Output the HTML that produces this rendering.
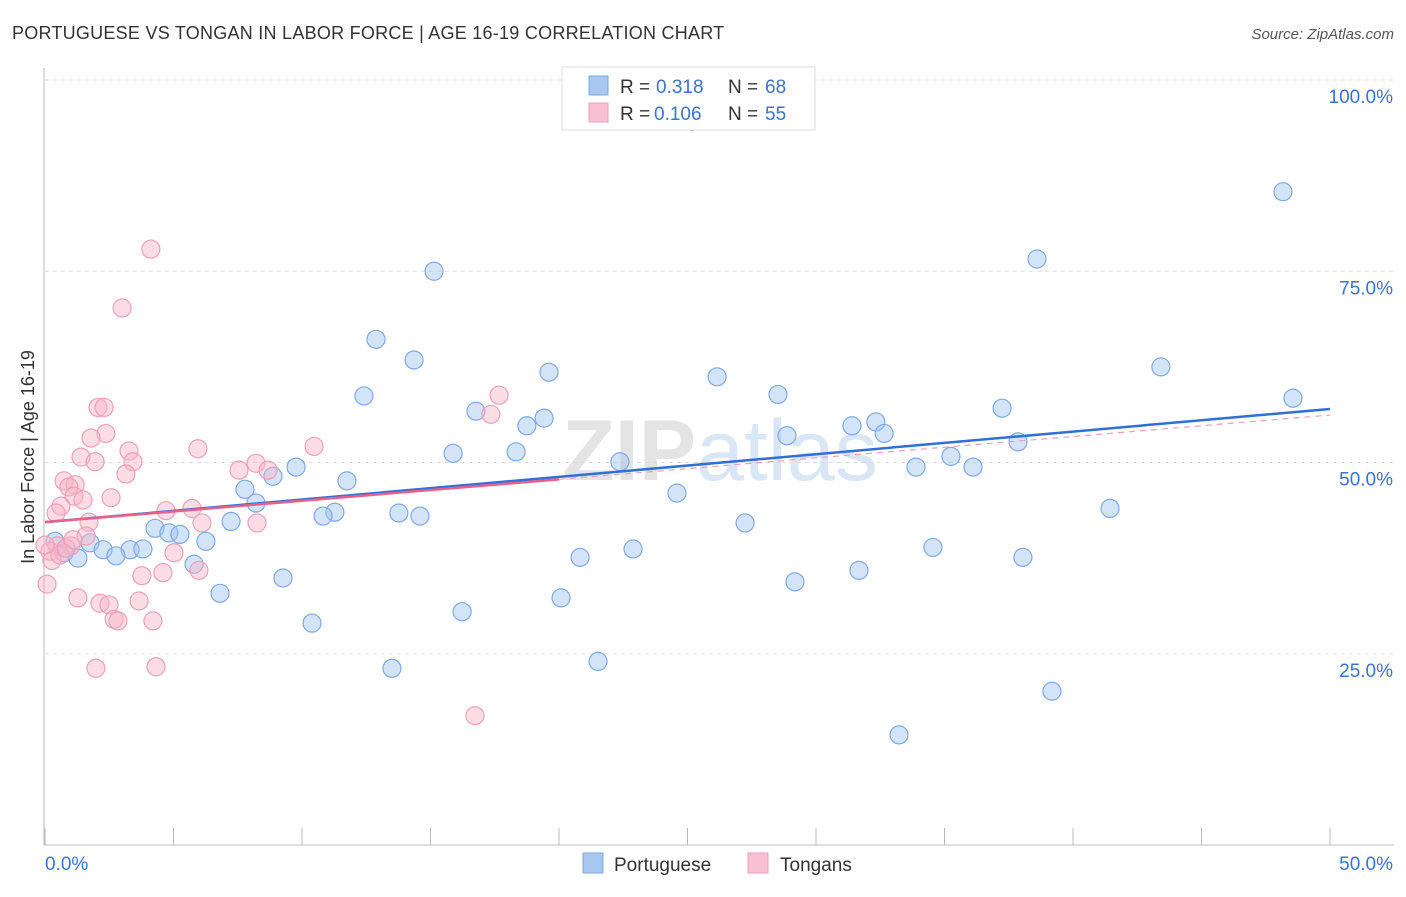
<!DOCTYPE html>
<html><head><meta charset="utf-8"><style>
body{margin:0;background:#fff;font-family:"Liberation Sans",sans-serif;}
svg text{font-family:"Liberation Sans",sans-serif;}
</style></head><body>
<svg id="chart" width="1406" height="892">
<text x="12" y="39" font-size="18" fill="#333" letter-spacing="0.25">PORTUGUESE VS TONGAN IN LABOR FORCE | AGE 16-19 CORRELATION CHART</text>
<text x="1394" y="39" font-size="15" fill="#555" font-style="italic" text-anchor="end">Source: ZipAtlas.com</text>
<text x="720" y="480" font-size="86" fill="#e4e4e4" text-anchor="middle" font-weight="bold">ZIP<tspan fill="#d8e6f5" font-weight="normal">atlas</tspan></text>
<g id="grid"></g>
<g id="axes"></g>
<g id="pts"></g>
<g id="trend"></g>
<text transform="translate(34,457) rotate(-90)" font-size="18" fill="#333" text-anchor="middle">In Labor Force | Age 16-19</text>
<g>
<rect x="562" y="67" width="253" height="63" fill="#fff" stroke="#ddd"/>
<rect x="589" y="76" width="19" height="19" fill="#a8c8f0" stroke="#7aa8e0"/>
<rect x="589" y="103" width="19" height="19" fill="#f8c0d0" stroke="#eea0b8"/>
<text x="620" y="93" font-size="19" fill="#333">R =</text>
<text x="656" y="93" font-size="19" fill="#3b73d0">0.318</text>
<text x="728" y="93" font-size="19" fill="#333">N =</text>
<text x="765" y="93" font-size="19" fill="#3b73d0">68</text>
<text x="620" y="120" font-size="19" fill="#333">R =</text>
<text x="654" y="120" font-size="19" fill="#3b73d0">0.106</text>
<text x="728" y="120" font-size="19" fill="#333">N =</text>
<text x="765" y="120" font-size="19" fill="#3b73d0">55</text>
</g>
<g>
<rect x="583" y="853" width="20" height="20" fill="#a8c8f0" stroke="#7aa8e0"/>
<text x="614" y="871" font-size="19" fill="#333">Portuguese</text>
<rect x="748" y="853" width="20" height="20" fill="#f8c0d0" stroke="#eea0b8"/>
<text x="780" y="871" font-size="19" fill="#333">Tongans</text>
</g>
</svg>
<script>
const xTicks=[0,5,10,15,20,25,30,35,40,45,50];
const yTicks=[25,50,75,100];
const yTickLabels=["25.0%","50.0%","75.0%","100.0%"];
const portX=[25.17,48.17,15.14,38.60,12.88,14.36,43.42,19.61,26.15,12.41,28.52,48.56,37.24,16.77,19.42,18.75,31.40,32.33,32.65,28.87,37.86,15.88,18.33,22.37,35.25,33.89,36.11,9.77,8.87,11.75,7.78,8.21,24.59,41.44,11.28,10.82,13.77,14.59,7.24,27.24,4.28,4.82,5.25,6.26,1.75,0.39,2.26,3.31,3.81,0.74,1.28,2.76,22.88,34.55,20.82,38.05,5.80,31.67,9.26,29.18,6.81,20.08,16.23,10.39,21.52,13.50,39.18,33.23];
const portY=[94.6,85.4,75.0,76.6,66.1,63.4,62.5,61.8,61.2,58.7,58.9,58.4,57.1,56.7,55.8,54.8,54.8,55.3,53.8,53.5,52.7,51.2,51.4,50.1,50.8,49.4,49.4,49.4,48.2,47.6,46.5,44.7,46.0,44.0,43.5,43.0,43.4,43.0,42.3,42.1,41.4,40.8,40.6,39.7,39.5,39.7,38.6,38.6,38.7,38.2,37.5,37.8,38.7,38.9,37.6,37.6,36.7,35.9,34.9,34.4,32.9,32.3,30.5,29.0,24.0,23.1,20.1,14.4];
const tongX=[4.12,3.00,2.06,2.30,17.67,17.35,2.37,1.79,3.27,10.47,5.95,1.40,1.95,3.42,8.21,7.55,8.68,3.15,0.74,1.17,0.93,1.13,1.48,2.57,0.62,0.43,4.71,5.72,1.71,6.11,8.25,1.60,1.01,0.47,0.19,0.27,5.02,5.99,4.59,3.77,0.08,1.28,2.14,2.49,3.66,2.69,4.20,1.98,4.32,16.73,0.58,0.82,0.00,2.84,1.09];
const tongY=[77.9,70.2,57.2,57.2,58.8,56.3,53.8,53.2,51.5,52.1,51.8,50.7,50.1,50.1,49.9,49.0,49.0,48.5,47.6,47.1,46.8,45.6,45.1,45.4,44.3,43.4,43.7,44.0,42.2,42.1,42.1,40.4,39.1,39.1,38.4,37.2,38.2,35.9,35.6,35.2,34.1,32.3,31.6,31.4,31.9,29.5,29.3,23.1,23.3,16.9,37.9,38.8,39.2,29.3,39.9];
const portTrend=[42.2,57.0];
const tongTrend=[42.2,56.2];
const tongSolidEnd=20;

const X=v=>45+v*(1285/50);
const Y=v=>845-v*7.65;
const NS="http://www.w3.org/2000/svg";
function mk(tag,attrs,parent){const e=document.createElementNS(NS,tag);for(const k in attrs)e.setAttribute(k,attrs[k]);document.getElementById(parent).appendChild(e);return e;}
yTicks.forEach((t,i)=>{
 const g=mk('line',{x1:45,x2:1394,y1:Y(t),y2:Y(t),stroke:'#ddd','stroke-dasharray':'4,4'},'grid');
 
 
 const l=mk('text',{x:1393,y:Y(t)+23,'font-size':19,fill:'#3b73d0','text-anchor':'end'},'axes');
 l.textContent=yTickLabels[i];
 
 
});
const ax=mk('line',{x1:44,x2:44,y1:68,y2:845,stroke:'#bbb'},'axes');


const bx=mk('line',{x1:44,x2:1394,y1:845,y2:845,stroke:'#bbb'},'axes');


xTicks.forEach(t=>{
 const tk=mk('line',{x1:X(t),x2:X(t),y1:828,y2:845,stroke:'#bbb'},'axes');
 
 
});
const xl0=mk('text',{x:45,y:870,'font-size':19,fill:'#3b73d0'},'axes');xl0.textContent='0.0%';


const xl1=mk('text',{x:1393,y:870,'font-size':19,fill:'#3b73d0','text-anchor':'end'},'axes');xl1.textContent='50.0%';


portX.forEach((v,i)=>{
 const c=mk('circle',{cx:X(v),cy:Y(portY[i]),r:9,fill:'rgba(160,196,240,0.45)',stroke:'#7eaae4','stroke-width':1.2},'pts');
 
 
});
tongX.forEach((v,i)=>{
 const c=mk('circle',{cx:X(v),cy:Y(tongY[i]),r:9,fill:'rgba(248,180,200,0.45)',stroke:'#eea0b8','stroke-width':1.2},'pts');
 
 
});
const td=mk('line',{x1:X(tongSolidEnd),y1:Y(tongTrend[0]+(tongTrend[1]-tongTrend[0])*tongSolidEnd/50),x2:X(50),y2:Y(tongTrend[1]),stroke:'#e8a0b8','stroke-width':1.2,'stroke-dasharray':'6,5'},'trend');


const pl=mk('line',{x1:X(0),y1:Y(portTrend[0]),x2:X(50),y2:Y(portTrend[1]),stroke:'#2f6fd6','stroke-width':2.5},'trend');


const tl=mk('line',{x1:X(0),y1:Y(tongTrend[0]),x2:X(tongSolidEnd),y2:Y(tongTrend[0]+(tongTrend[1]-tongTrend[0])*tongSolidEnd/50),stroke:'#e8608c','stroke-width':2.5},'trend');


</script>
</body></html>
